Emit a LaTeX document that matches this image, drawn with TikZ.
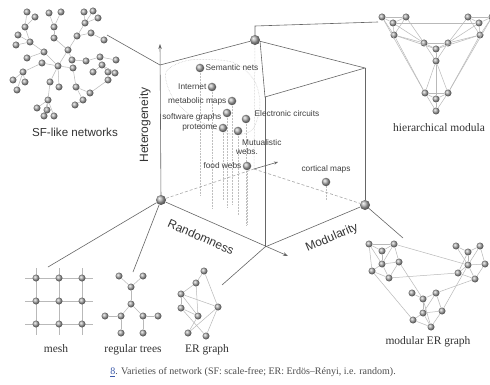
\documentclass[tikz,border=0pt]{standalone}
\usepackage{fontspec}
\setmainfont{Liberation Serif}
\newfontfamily\lsans{Liberation Sans}
\usetikzlibrary{arrows.meta}
\definecolor{linkblue}{RGB}{60,90,170}
\begin{document}
\begin{tikzpicture}[x=1pt,y=-1pt,
  ball/.style={circle,inner sep=0pt,minimum size=7pt,ball color=gray!65,draw=none},
  bigball/.style={ball,minimum size=10pt},
  dball/.style={ball,minimum size=8.5pt},
  net/.style={draw=gray!55,line width=0.5pt},
  cube/.style={draw=gray!80!black,line width=0.6pt},
  hid/.style={draw=gray!70,line width=0.6pt,dash pattern=on 3pt off 2pt},
  drop/.style={draw=gray!50,line width=0.5pt,densely dotted},
  lbl/.style={font=\lsans\fontsize{8.3}{9}\selectfont,text=black!75,inner sep=1pt},
  axlbl/.style={font=\lsans\fontsize{12}{13}\selectfont,text=black!80,inner sep=0pt},
  serlbl/.style={font=\fontsize{11.5}{12}\selectfont,text=black!80,inner sep=0pt}]
\useasboundingbox[fill=white] (0,0) rectangle (490,385);

% ---------------- cube ----------------
\coordinate (LT) at (160,65);
\coordinate (FT) at (265,97);
\coordinate (RT) at (365,68);
\coordinate (FB) at (265,247);
\coordinate (BB) at (254,169);
\coordinate (HT) at (160,44);
\coordinate (RandTip) at (288,256);
\coordinate (BBTip) at (278,162);

% dotted enclosing curve
\draw[drop] plot[smooth cycle] coordinates {(166,72) (190,60) (232,62) (254,80) (260,105) (252,130) (230,134) (196,119) (173,98)};

% drop lines of data points
\foreach \x/\ya/\yb in {200/70/195, 212/89/208, 232/103/205, 227/115/207, 223/130/200, 246/121/225, 238/133/215, 247/168/224, 326/184/200}
  \draw[drop] (\x,\ya) -- (\x,\yb);

\node[bigball] (BT) at (255,40) {};
\node[bigball] (LB) at (161,200) {};
\node[bigball] (RB) at (365,205) {};

\draw[drop] (BT) -- (BB);
\draw[hid] (LB) -- (BB);
\draw[hid] (BB) -- (RB);
\draw[cube,-{Stealth[length=4pt,width=3pt]}] (BB) -- (BBTip);

\draw[cube] (LT) -- (BT) -- (RT) -- (FT) -- cycle;
\draw[cube] (FT) -- (FB);
\draw[cube] (RT) -- (RB);
\draw[cube] (FB) -- (RB);
\draw[cube,-{Stealth[length=5pt,width=3.5pt]}] (LB) -- (HT);
\draw[cube,-{Stealth[length=5pt,width=3.5pt]}] (LB) -- (RandTip);

% data points
\node[dball] (sem) at (200,68) {};
\node[lbl,anchor=west] (semL) at (sem.east) {Semantic nets};
\node[dball] (inet) at (212,87) {};
\node[lbl,anchor=east] (inetL) at (inet.west) {Internet};
\node[dball] (meta) at (232,101) {};
\node[lbl,anchor=east] (metaL) at (meta.west) {metabolic maps};
\node[dball] (soft) at (227,113) {};
\node[lbl,anchor=east] (softL) at ([yshift=-4pt]soft.west) {software graphs};
\node[dball] (prot) at (223,128) {};
\node[lbl,anchor=east] (protL) at (prot.west) {proteome};
\node[dball] (elec) at (246,119) {};
\node[lbl,anchor=west] (elecL) at ([xshift=3pt,yshift=5pt]elec.east) {Electronic circuits};
\node[dball] (mut) at (238,131) {};
\node[lbl,anchor=north west,align=left] (mutL) at ([xshift=-3pt,yshift=-3pt]mut.south) {\hspace*{6pt}Mutualistic\\webs.};
\node[dball] (food) at (247,166) {};
\node[lbl,anchor=east] (foodL) at (food.west) {food webs};
\node[dball] (cort) at (326,182) {};
\node[lbl,anchor=south] (cortL) at ([yshift=3pt]cort.north) {cortical maps};

% axis labels
\node[axlbl,rotate=90] (het) at (145,125) {Heterogeneity};
\node[axlbl,rotate=-24] (rand) at (201,237) {Randomness};
\node[axlbl,rotate=23] (modl) at (332,238) {Modularity};

% ---------------- connectors ----------------
\coordinate (sfEnd) at (107,35);
\coordinate (hmEnd) at (378,22);
\coordinate (hmKnee) at (255,26);
\coordinate (meshEnd) at (48,267);
\coordinate (treeEnd) at (133,272);
\coordinate (erEnd) at (222,285);
\coordinate (merEnd) at (403,238);
\draw[cube] (LT) -- (sfEnd);
\draw[cube] (BT) -- (hmKnee) -- (hmEnd);
\draw[cube] (LB) -- (meshEnd);
\draw[cube] (LB) -- (treeEnd);
\draw[cube] (FB) -- (erEnd);
\draw[cube] (RB) -- (merEnd);

% ---------------- SF-like network ----------------
\foreach \n/\x/\y in {a0/58/66, a1/68/50, a2/77/36, a3/91/33, a4/104/40, a5/85/23, a6/84/12, a7/93/11, a8/98/18,
  a9/54/38, a10/54/27, a11/49/13, a12/61/12, a13/44/52, a14/30/42, a15/18/35, a16/16/45, a17/25/27, a18/27/12, a19/35/17,
  a20/42/63, a21/23/72, a22/13/80, a23/25/82, a24/17/90, a25/50/82, a26/48/100, a27/37/108, a28/47/110, a29/44/116,
  a30/54/116, a31/59/87, a32/72/60, a33/86/61, a34/100/57, a35/116/60, a36/102/65, a37/93/72, a38/108/72, a39/115/73,
  a40/73/68, a41/76/87, a42/90/93, a43/83/100, a44/75/105, a45/108/80, a46/27/58}
  \node[ball] (\n) at (\x,\y) {};
\foreach \u/\v in {a0/a1, a1/a2, a2/a3, a3/a4, a2/a5, a5/a6, a5/a7, a5/a8, a1/a9, a9/a10, a10/a11, a10/a12,
  a0/a13, a13/a14, a14/a15, a14/a16, a14/a17, a17/a18, a17/a19, a0/a20, a20/a21, a21/a22, a21/a23, a21/a24,
  a0/a25, a25/a26, a26/a27, a26/a28, a26/a29, a26/a30, a0/a31, a1/a32, a32/a33, a33/a34, a34/a35, a34/a36,
  a36/a37, a36/a38, a36/a39, a0/a40, a40/a41, a41/a42, a41/a43, a43/a44, a42/a45, a13/a46}
  \draw[net] (\u) -- (\v);
\node[axlbl,font=\lsans\fontsize{11.6}{13}\selectfont] (sfL) at (75,132) {SF-like networks};

% ---------------- hierarchical modular ----------------
\foreach \n/\x/\y in {h1/382/17, h2/393/23, h3/406/17, h4/394/35, c1/424/43, c2/436/49, c3/448/43, c4/436/61,
  r1/468/17, r2/479/23, r3/480/35, r4/492/17, b1/425/93, b2/436/99, b3/448/93, b4/436/111}
  \node[ball] (\n) at (\x,\y) {};
\foreach \m in {h,c,r,b}
  \foreach \u/\v in {1/2, 2/3, 1/3, 2/4, 1/4, 3/4}
    \draw[net] (\m\u) -- (\m\v);
\foreach \u/\v in {h4/c1, h3/c1, h2/c1, h4/c2, r3/c3, r1/c3, r2/c3, r3/c2, c4/b1, c4/b3, c4/b2, h1/b1, r4/b3, h4/b1, r3/b3, h2/r2}
  \draw[net] (\u) -- (\v);
\node[serlbl,anchor=west] (hmL) at (393,128) {hierarchical modula};

% ---------------- mesh ----------------
\foreach \y [count=\i] in {278,301,324} {
  \coordinate (mrowA\i) at (25,\y); \coordinate (mrowB\i) at (93,\y);
  \draw[net] (mrowA\i) -- (mrowB\i);}
\foreach \x [count=\i] in {36,59,82} {
  \coordinate (mcolA\i) at (\x,268); \coordinate (mcolB\i) at (\x,335);
  \draw[net] (mcolA\i) -- (mcolB\i);}
\foreach \x [count=\i] in {36,59,82}
  \foreach \y [count=\j] in {278,301,324}
    \node[ball] (mesh\i\j) at (\x,\y) {};
\node[serlbl] (meshL) at (56,349) {mesh};

% ---------------- regular trees ----------------
\foreach \n/\x/\y in {t1/119/276, t2/143/276, t3/131/287, t4/131/304, t5/121/316, t6/143/316, t7/105/316, t8/158/316, t9/121/333, t10/143/333}
  \node[ball] (\n) at (\x,\y) {};
\foreach \u/\v in {t1/t3, t2/t3, t3/t4, t4/t5, t4/t6, t5/t7, t6/t8, t5/t9, t6/t10}
  \draw[net] (\u) -- (\v);
\node[serlbl] (treeL) at (133,350) {regular trees};

% ---------------- ER graph ----------------
\foreach \n/\x/\y in {e1/204/271, e2/196/283, e3/181/294, e4/181/308, e5/198/316, e6/218/307, e7/188/333, e8/206/336}
  \node[ball] (\n) at (\x,\y) {};
\foreach \u/\v in {e1/e2, e1/e6, e2/e3, e2/e5, e3/e4, e3/e6, e4/e5, e4/e8, e5/e7, e6/e7, e6/e8, e3/e5}
  \draw[net] (\u) -- (\v);
\node[serlbl] (erL) at (207,350) {ER graph};

% ---------------- modular ER graph ----------------
\foreach \n/\x/\y in {m1/369/244, m2/382/251, m3/394/244, m4/382/264, m5/399/262, m6/372/271, m7/389/278,
  n1/456/246, n2/468/252, n3/480/246, n4/468/265, n5/485/264, n6/458/273, n7/475/279,
  p1/412/293, p2/423/299, p3/436/293, p4/423/313, p5/442/311, p6/413/320, p7/431/327}
  \node[ball] (\n) at (\x,\y) {};
\foreach \u/\v in {m1/m2, m1/m3, m2/m3, m1/m4, m2/m4, m3/m4, m3/m5, m4/m5, m4/m6, m1/m6, m6/m7, m4/m7, m5/m7,
  n1/n2, n1/n4, n2/n3, n2/n4, n3/n5, n4/n5, n4/n6, n4/n7, n5/n7, n2/n6, n3/n4, n6/n7,
  p1/p2, p2/p3, p2/p4, p3/p4, p3/p5, p4/p5, p4/p6, p4/p7, p6/p7, p2/p7, p5/p7,
  m3/n4, m7/n6, m6/p6, m5/p2, p3/n7, p5/n4}
  \draw[net] (\u) -- (\v);
\node[serlbl] (merL) at (428,342) {modular ER graph};

% ---------------- caption ----------------
\node[font=\fontsize{10}{12}\selectfont,text=black!70,inner sep=0pt] (cap) at (253,372)
  {\textcolor{linkblue}{\underline{8}}. Varieties of network (SF: scale-free; ER: Erdös–Rényi, i.e. random).};
\end{tikzpicture}
\end{document}
